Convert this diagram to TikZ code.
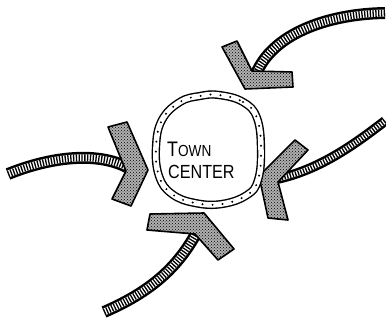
\documentclass[tikz,border=0pt]{standalone}
\usepackage{fontspec}
\setmainfont{Liberation Sans}
\usetikzlibrary{patterns}
\newcommand\mytail[2]{%
  \draw[tailout, line width=#1] #2;
  \draw[tailin, line width=#1-5pt] #2;
  \draw[tailhatch, line width=#1-5pt] #2;}
\begin{document}
\begin{tikzpicture}[x=1pt,y=-1pt,
  chev/.style={draw=black, line width=1.6pt, line join=round,
    preaction={fill=gray!62}, preaction={pattern=crosshatch dots}},
  tailout/.style={draw=black, line cap=butt},
  tailin/.style={draw=white, line cap=butt},
  tailhatch/.style={draw=black, line cap=butt, dash pattern=on 1.3pt off 1.5pt},
  ringline/.style={draw=black, line width=1.4pt, double=white, double distance=5.5pt},
  ringdots/.style={draw=black, line width=2.2pt, line cap=round, dash pattern=on 0pt off 10pt},
  lbl/.style={inner sep=0pt, anchor=base west}]
\useasboundingbox (0,0) rectangle (386,321);

% named points
\coordinate (aS) at (385,13);  \coordinate (aE) at (256,74);
\coordinate (bS) at (8,174);   \coordinate (bE) at (132,170);
\coordinate (cS) at (385,121); \coordinate (cE) at (272,180);
\coordinate (dS) at (104,312); \coordinate (dE) at (198,230);

% tails
\mytail{12pt}{(aS) .. controls (325,14) and (272,35) .. (aE)}
\mytail{12pt}{(bS) .. controls (50,157) and (100,150) .. (bE)}
\mytail{10pt}{(cS) .. controls (350,148) and (315,172) .. (cE)}
\mytail{12pt}{(dS) .. controls (150,292) and (178,268) .. (dE)}

% chevrons
\path[chev] (222,47) -- (245,89) -- (293,87) -- (292,72) -- (252,71) -- (237,41) -- cycle;
\path[chev] (108,127) -- (127,122) -- (148,170) -- (131,206) -- (112,199) -- (126,171) -- cycle;
\path[chev] (295,140) -- (308,150) -- (278,182) -- (288,220) -- (268,218) -- (259,176) -- cycle;
\path[chev] (150,214) -- (204,213) -- (234,249) -- (218,260) -- (195,234) -- (147,230) -- cycle;

% ring
\draw[ringline] plot[smooth cycle, tension=0.7] coordinates {(219,95) (243,102) (257,118) (261,150) (258,180) (247,195) (222,204) (195,203) (172,194) (159,176) (156,147) (162,120) (180,102) (200,96)};
\draw[ringdots] plot[smooth cycle, tension=0.7] coordinates {(219,95) (243,102) (257,118) (261,150) (258,180) (247,195) (222,204) (195,203) (172,194) (159,176) (156,147) (162,120) (180,102) (200,96)};

% label
\node[lbl] (town) at (167,157) {\scalebox{0.85}[1]{\fontsize{21}{21}\selectfont T\fontsize{16}{16}\selectfont OWN}};
\node[lbl] (center) at (168,178) {\scalebox{0.85}[1]{\fontsize{19}{19}\selectfont CENTER}};
\end{tikzpicture}
\end{document}
